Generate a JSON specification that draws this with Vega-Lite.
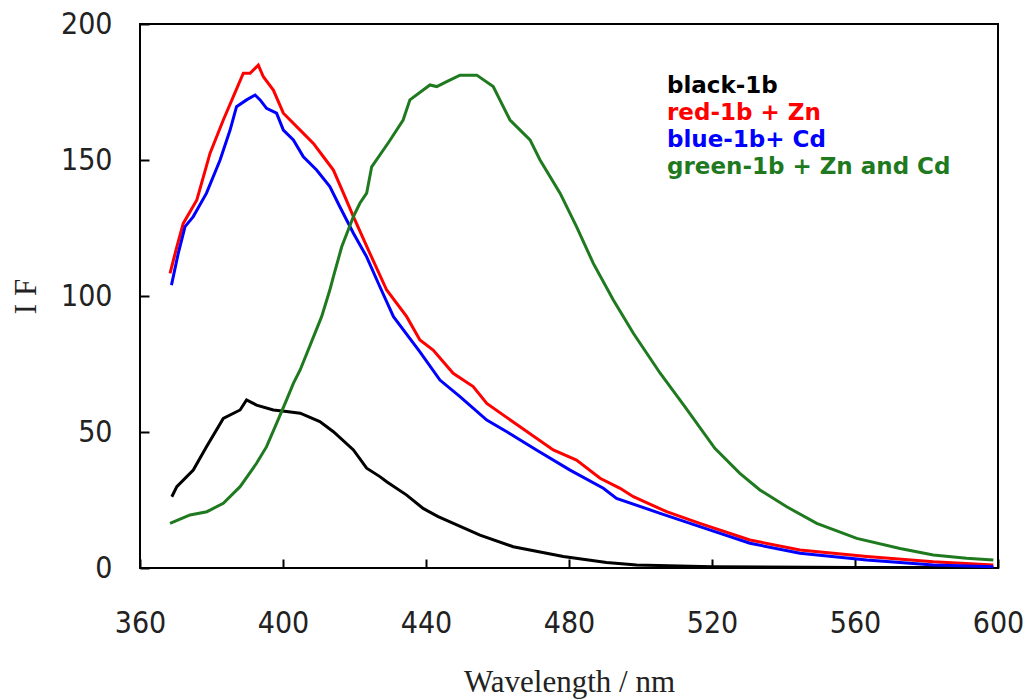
{
  "$schema": "https://vega.github.io/schema/vega-lite/v6.json",
  "autosize": {"type": "none"},
  "padding": {"left": 140, "top": 24, "right": 25, "bottom": 132},
  "width": 858,
  "height": 544,
  "background": "white",
  "config": {
    "view": {"stroke": "black", "strokeWidth": 2},
    "axis": {
      "grid": false,
      "zindex": 1,
      "domain": false,
      "offset": -9,
      "ticks": true,
      "tickColor": "black",
      "tickWidth": 2,
      "tickSize": 9,
      "labelColor": "#222222",
      "labelFont": "Liberation Sans Narrow, DejaVu Sans Condensed, Liberation Sans",
      "labelFontSize": 30,
      "labelFontWeight": "normal",
      "titleFont": "Liberation Serif",
      "titleFontSize": 31,
      "titleFontWeight": "normal",
      "titleColor": "#222222"
    }
  },
  "data": {
    "values": [
      {"series": "black-1b", "wavelength": 368.9, "intensity": 26.2},
      {"series": "black-1b", "wavelength": 370.3, "intensity": 29.9},
      {"series": "black-1b", "wavelength": 374.9, "intensity": 36.0},
      {"series": "black-1b", "wavelength": 378.6, "intensity": 44.6},
      {"series": "black-1b", "wavelength": 383.3, "intensity": 55.0},
      {"series": "black-1b", "wavelength": 388.0, "intensity": 58.1},
      {"series": "black-1b", "wavelength": 389.8, "intensity": 61.8},
      {"series": "black-1b", "wavelength": 392.6, "intensity": 59.9},
      {"series": "black-1b", "wavelength": 397.3, "intensity": 58.1},
      {"series": "black-1b", "wavelength": 401.0, "intensity": 57.5},
      {"series": "black-1b", "wavelength": 404.8, "intensity": 56.9},
      {"series": "black-1b", "wavelength": 410.3, "intensity": 53.8},
      {"series": "black-1b", "wavelength": 414.1, "intensity": 50.1},
      {"series": "black-1b", "wavelength": 419.7, "intensity": 43.4},
      {"series": "black-1b", "wavelength": 423.4, "intensity": 36.7},
      {"series": "black-1b", "wavelength": 427.1, "intensity": 33.6},
      {"series": "black-1b", "wavelength": 429.0, "intensity": 31.7},
      {"series": "black-1b", "wavelength": 434.6, "intensity": 26.8},
      {"series": "black-1b", "wavelength": 439.2, "intensity": 21.9},
      {"series": "black-1b", "wavelength": 443.4, "intensity": 18.9},
      {"series": "black-1b", "wavelength": 455.1, "intensity": 12.1},
      {"series": "black-1b", "wavelength": 464.4, "intensity": 7.8},
      {"series": "black-1b", "wavelength": 478.4, "intensity": 4.2},
      {"series": "black-1b", "wavelength": 490.5, "intensity": 2.0},
      {"series": "black-1b", "wavelength": 498.9, "intensity": 1.1},
      {"series": "black-1b", "wavelength": 520.0, "intensity": 0.5},
      {"series": "black-1b", "wavelength": 560.0, "intensity": 0.2},
      {"series": "black-1b", "wavelength": 598.7, "intensity": 0.2},

      {"series": "red-1b + Zn", "wavelength": 368.4, "intensity": 108.3},
      {"series": "red-1b + Zn", "wavelength": 370.3, "intensity": 118.1},
      {"series": "red-1b + Zn", "wavelength": 372.1, "intensity": 126.7},
      {"series": "red-1b + Zn", "wavelength": 375.9, "intensity": 135.3},
      {"series": "red-1b + Zn", "wavelength": 379.6, "intensity": 152.5},
      {"series": "red-1b + Zn", "wavelength": 383.3, "intensity": 164.7},
      {"series": "red-1b + Zn", "wavelength": 386.1, "intensity": 173.3},
      {"series": "red-1b + Zn", "wavelength": 388.9, "intensity": 181.9},
      {"series": "red-1b + Zn", "wavelength": 390.8, "intensity": 181.9},
      {"series": "red-1b + Zn", "wavelength": 393.1, "intensity": 184.9},
      {"series": "red-1b + Zn", "wavelength": 394.5, "intensity": 180.6},
      {"series": "red-1b + Zn", "wavelength": 397.3, "intensity": 175.7},
      {"series": "red-1b + Zn", "wavelength": 400.1, "intensity": 167.2},
      {"series": "red-1b + Zn", "wavelength": 404.8, "intensity": 161.0},
      {"series": "red-1b + Zn", "wavelength": 408.5, "intensity": 156.1},
      {"series": "red-1b + Zn", "wavelength": 411.3, "intensity": 151.2},
      {"series": "red-1b + Zn", "wavelength": 414.1, "intensity": 146.3},
      {"series": "red-1b + Zn", "wavelength": 416.9, "intensity": 137.8},
      {"series": "red-1b + Zn", "wavelength": 419.7, "intensity": 129.2},
      {"series": "red-1b + Zn", "wavelength": 424.3, "intensity": 115.7},
      {"series": "red-1b + Zn", "wavelength": 429.0, "intensity": 102.2},
      {"series": "red-1b + Zn", "wavelength": 434.6, "intensity": 92.4},
      {"series": "red-1b + Zn", "wavelength": 438.3, "intensity": 83.8},
      {"series": "red-1b + Zn", "wavelength": 442.0, "intensity": 80.1},
      {"series": "red-1b + Zn", "wavelength": 447.6, "intensity": 71.6},
      {"series": "red-1b + Zn", "wavelength": 453.2, "intensity": 66.7},
      {"series": "red-1b + Zn", "wavelength": 457.0, "intensity": 60.5},
      {"series": "red-1b + Zn", "wavelength": 466.3, "intensity": 51.9},
      {"series": "red-1b + Zn", "wavelength": 475.6, "intensity": 43.4},
      {"series": "red-1b + Zn", "wavelength": 482.1, "intensity": 39.7},
      {"series": "red-1b + Zn", "wavelength": 488.7, "intensity": 33.0},
      {"series": "red-1b + Zn", "wavelength": 494.3, "intensity": 29.3},
      {"series": "red-1b + Zn", "wavelength": 498.0, "intensity": 26.2},
      {"series": "red-1b + Zn", "wavelength": 507.3, "intensity": 20.7},
      {"series": "red-1b + Zn", "wavelength": 516.6, "intensity": 16.4},
      {"series": "red-1b + Zn", "wavelength": 530.6, "intensity": 10.3},
      {"series": "red-1b + Zn", "wavelength": 544.6, "intensity": 6.6},
      {"series": "red-1b + Zn", "wavelength": 563.3, "intensity": 4.2},
      {"series": "red-1b + Zn", "wavelength": 581.9, "intensity": 2.3},
      {"series": "red-1b + Zn", "wavelength": 598.7, "intensity": 1.1},

      {"series": "blue-1b+ Cd", "wavelength": 368.8, "intensity": 104.0},
      {"series": "blue-1b+ Cd", "wavelength": 370.7, "intensity": 115.7},
      {"series": "blue-1b+ Cd", "wavelength": 372.6, "intensity": 125.5},
      {"series": "blue-1b+ Cd", "wavelength": 374.9, "intensity": 129.2},
      {"series": "blue-1b+ Cd", "wavelength": 378.6, "intensity": 137.8},
      {"series": "blue-1b+ Cd", "wavelength": 382.4, "intensity": 150.0},
      {"series": "blue-1b+ Cd", "wavelength": 385.2, "intensity": 161.0},
      {"series": "blue-1b+ Cd", "wavelength": 387.0, "intensity": 169.6},
      {"series": "blue-1b+ Cd", "wavelength": 389.8, "intensity": 172.1},
      {"series": "blue-1b+ Cd", "wavelength": 392.2, "intensity": 173.9},
      {"series": "blue-1b+ Cd", "wavelength": 393.6, "intensity": 172.1},
      {"series": "blue-1b+ Cd", "wavelength": 395.4, "intensity": 169.0},
      {"series": "blue-1b+ Cd", "wavelength": 398.2, "intensity": 167.2},
      {"series": "blue-1b+ Cd", "wavelength": 400.1, "intensity": 161.0},
      {"series": "blue-1b+ Cd", "wavelength": 402.9, "intensity": 157.4},
      {"series": "blue-1b+ Cd", "wavelength": 405.7, "intensity": 151.2},
      {"series": "blue-1b+ Cd", "wavelength": 409.4, "intensity": 146.3},
      {"series": "blue-1b+ Cd", "wavelength": 413.1, "intensity": 140.2},
      {"series": "blue-1b+ Cd", "wavelength": 415.9, "intensity": 132.8},
      {"series": "blue-1b+ Cd", "wavelength": 419.7, "intensity": 123.1},
      {"series": "blue-1b+ Cd", "wavelength": 423.4, "intensity": 114.4},
      {"series": "blue-1b+ Cd", "wavelength": 427.1, "intensity": 103.4},
      {"series": "blue-1b+ Cd", "wavelength": 430.9, "intensity": 92.4},
      {"series": "blue-1b+ Cd", "wavelength": 438.3, "intensity": 79.5},
      {"series": "blue-1b+ Cd", "wavelength": 443.9, "intensity": 69.1},
      {"series": "blue-1b+ Cd", "wavelength": 449.5, "intensity": 63.0},
      {"series": "blue-1b+ Cd", "wavelength": 457.0, "intensity": 54.4},
      {"series": "blue-1b+ Cd", "wavelength": 462.6, "intensity": 50.1},
      {"series": "blue-1b+ Cd", "wavelength": 470.9, "intensity": 43.4},
      {"series": "blue-1b+ Cd", "wavelength": 480.3, "intensity": 36.0},
      {"series": "blue-1b+ Cd", "wavelength": 489.6, "intensity": 29.3},
      {"series": "blue-1b+ Cd", "wavelength": 493.3, "intensity": 25.6},
      {"series": "blue-1b+ Cd", "wavelength": 505.5, "intensity": 20.1},
      {"series": "blue-1b+ Cd", "wavelength": 516.6, "intensity": 15.2},
      {"series": "blue-1b+ Cd", "wavelength": 530.6, "intensity": 9.1},
      {"series": "blue-1b+ Cd", "wavelength": 544.6, "intensity": 5.4},
      {"series": "blue-1b+ Cd", "wavelength": 563.3, "intensity": 2.9},
      {"series": "blue-1b+ Cd", "wavelength": 581.9, "intensity": 1.1},
      {"series": "blue-1b+ Cd", "wavelength": 598.7, "intensity": 0.5},

      {"series": "green-1b + Zn and Cd", "wavelength": 368.4, "intensity": 16.4},
      {"series": "green-1b + Zn and Cd", "wavelength": 374.0, "intensity": 19.5},
      {"series": "green-1b + Zn and Cd", "wavelength": 378.7, "intensity": 20.7},
      {"series": "green-1b + Zn and Cd", "wavelength": 383.3, "intensity": 23.8},
      {"series": "green-1b + Zn and Cd", "wavelength": 388.0, "intensity": 29.9},
      {"series": "green-1b + Zn and Cd", "wavelength": 392.6, "intensity": 38.5},
      {"series": "green-1b + Zn and Cd", "wavelength": 395.4, "intensity": 44.6},
      {"series": "green-1b + Zn and Cd", "wavelength": 398.2, "intensity": 53.2},
      {"series": "green-1b + Zn and Cd", "wavelength": 401.0, "intensity": 61.8},
      {"series": "green-1b + Zn and Cd", "wavelength": 402.9, "intensity": 67.9},
      {"series": "green-1b + Zn and Cd", "wavelength": 404.8, "intensity": 72.8},
      {"series": "green-1b + Zn and Cd", "wavelength": 410.8, "intensity": 92.4},
      {"series": "green-1b + Zn and Cd", "wavelength": 413.1, "intensity": 102.2},
      {"series": "green-1b + Zn and Cd", "wavelength": 414.1, "intensity": 107.1},
      {"series": "green-1b + Zn and Cd", "wavelength": 416.4, "intensity": 118.0},
      {"series": "green-1b + Zn and Cd", "wavelength": 419.7, "intensity": 129.2},
      {"series": "green-1b + Zn and Cd", "wavelength": 421.5, "intensity": 134.1},
      {"series": "green-1b + Zn and Cd", "wavelength": 423.4, "intensity": 137.8},
      {"series": "green-1b + Zn and Cd", "wavelength": 424.8, "intensity": 147.5},
      {"series": "green-1b + Zn and Cd", "wavelength": 429.7, "intensity": 156.8},
      {"series": "green-1b + Zn and Cd", "wavelength": 433.6, "intensity": 164.7},
      {"series": "green-1b + Zn and Cd", "wavelength": 435.5, "intensity": 172.1},
      {"series": "green-1b + Zn and Cd", "wavelength": 441.1, "intensity": 177.6},
      {"series": "green-1b + Zn and Cd", "wavelength": 443.0, "intensity": 177.0},
      {"series": "green-1b + Zn and Cd", "wavelength": 445.8, "intensity": 178.8},
      {"series": "green-1b + Zn and Cd", "wavelength": 449.5, "intensity": 181.2},
      {"series": "green-1b + Zn and Cd", "wavelength": 454.2, "intensity": 181.2},
      {"series": "green-1b + Zn and Cd", "wavelength": 458.8, "intensity": 177.0},
      {"series": "green-1b + Zn and Cd", "wavelength": 463.5, "intensity": 164.7},
      {"series": "green-1b + Zn and Cd", "wavelength": 469.1, "intensity": 157.4},
      {"series": "green-1b + Zn and Cd", "wavelength": 471.9, "intensity": 150.0},
      {"series": "green-1b + Zn and Cd", "wavelength": 477.5, "intensity": 137.8},
      {"series": "green-1b + Zn and Cd", "wavelength": 482.1, "intensity": 125.5},
      {"series": "green-1b + Zn and Cd", "wavelength": 486.8, "intensity": 112.0},
      {"series": "green-1b + Zn and Cd", "wavelength": 492.4, "intensity": 98.5},
      {"series": "green-1b + Zn and Cd", "wavelength": 498.0, "intensity": 86.3},
      {"series": "green-1b + Zn and Cd", "wavelength": 505.5, "intensity": 71.6},
      {"series": "green-1b + Zn and Cd", "wavelength": 512.4, "intensity": 59.3},
      {"series": "green-1b + Zn and Cd", "wavelength": 520.8, "intensity": 44.0},
      {"series": "green-1b + Zn and Cd", "wavelength": 527.8, "intensity": 34.8},
      {"series": "green-1b + Zn and Cd", "wavelength": 533.4, "intensity": 28.7},
      {"series": "green-1b + Zn and Cd", "wavelength": 540.9, "intensity": 22.5},
      {"series": "green-1b + Zn and Cd", "wavelength": 549.3, "intensity": 16.4},
      {"series": "green-1b + Zn and Cd", "wavelength": 560.5, "intensity": 10.9},
      {"series": "green-1b + Zn and Cd", "wavelength": 572.6, "intensity": 7.2},
      {"series": "green-1b + Zn and Cd", "wavelength": 581.9, "intensity": 4.8},
      {"series": "green-1b + Zn and Cd", "wavelength": 591.2, "intensity": 3.6},
      {"series": "green-1b + Zn and Cd", "wavelength": 598.7, "intensity": 2.9}
    ]
  },
  "mark": {"type": "line", "strokeWidth": 3, "interpolate": "linear"},
  "encoding": {
    "x": {
      "field": "wavelength",
      "type": "quantitative",
      "scale": {"domain": [360, 600], "nice": false, "zero": false},
      "axis": {
        "title": "Wavelength / nm",
        "values": [360, 400, 440, 480, 520, 560, 600],
        "labelPadding": 40,
        "labelFlush": false,
        "titleY": 132,
        "titleBaseline": "alphabetic"
      }
    },
    "y": {
      "field": "intensity",
      "type": "quantitative",
      "scale": {"domain": [0, 200], "nice": false},
      "axis": {
        "title": "I F",
        "values": [0, 50, 100, 150, 200],
        "labelPadding": 28,
        "titleX": -123,
        "titleY": 272,
        "titleBaseline": "middle",
        "titleAngle": -90
      }
    },
    "color": {
      "field": "series",
      "type": "nominal",
      "sort": null,
      "scale": {
        "domain": ["black-1b", "red-1b + Zn", "blue-1b+ Cd", "green-1b + Zn and Cd"],
        "range": ["#000000", "#ff0000", "#0000ff", "#1f7a1f"]
      },
      "legend": {
        "title": null,
        "orient": "none",
        "legendX": 504,
        "legendY": 50,
        "padding": 0,
        "symbolSize": 0,
        "symbolStrokeWidth": 0,
        "symbolOpacity": 0,
        "labelOffset": 0,
        "labelFont": "DejaVu Sans",
        "labelFontSize": 23,
        "labelFontWeight": "bold",
        "labelLimit": 400,
        "rowPadding": 3,
        "encode": {
          "labels": {"update": {"fill": {"scale": "color", "field": "value"}}}
        }
      }
    }
  }
}
